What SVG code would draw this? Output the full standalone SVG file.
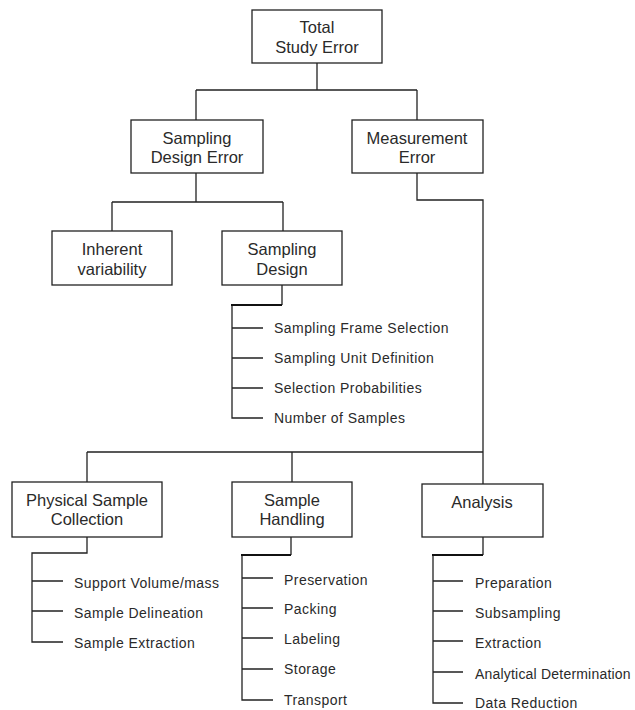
<svg xmlns="http://www.w3.org/2000/svg" width="635" height="710" viewBox="0 0 635 710">
<style>
.box{fill:#fff;stroke:#222;stroke-width:1.3}
.bt{font-family:"Liberation Sans",Arial,sans-serif;font-size:16.5px;fill:#2a2a2a;text-anchor:middle}
.lt{font-family:"Liberation Sans",Arial,sans-serif;font-size:14px;letter-spacing:0.45px;fill:#2a2a2a}
.c{fill:none;stroke:#222;stroke-width:1.3}
.th{fill:none;stroke:#111;stroke-width:2.2}
</style>
<rect width="635" height="710" fill="#fff"/>
<g id="connectors">
<path class="c" d="M317 63V90M196 90H417M196 90V120M417 90V120"/>
<path class="c" d="M196 173V202M112 202H283M112 202V231M283 202V231"/>
<path class="c" d="M417 173V200H483V452M87 452H483M87 452V482M292 452V482M483 452V484"/>
<path class="c" d="M282 285V305M232 305V418H263M232 328H263M232 358H263M232 388H263"/>
<path class="th" d="M282 305H231"/>
<path class="c" d="M87 537V553H32V642H63M32 581H63M32 611H63"/>
<path class="c" d="M291 537V555M242 555V700H273M242 578H273M242 608H273M242 638H273M242 669H273"/>
<path class="th" d="M291 555H241"/>
<path class="c" d="M483 537V555M433 555V703H463M433 581H463M433 611H463M433 641H463M433 672H463"/>
<path class="th" d="M483 555H432"/>
</g>
<g id="total-study-error"><rect class="box" x="252" y="10" width="130" height="53"/><text class="bt" x="317" y="33">Total</text><text class="bt" x="317" y="53">Study Error</text></g>
<g id="sampling-design-error"><rect class="box" x="131" y="120" width="132" height="53"/><text class="bt" x="197" y="144">Sampling</text><text class="bt" x="197" y="163">Design Error</text></g>
<g id="measurement-error"><rect class="box" x="352" y="120" width="131" height="53"/><text class="bt" x="417" y="144">Measurement</text><text class="bt" x="417" y="163">Error</text></g>
<g id="inherent-variability"><rect class="box" x="52" y="231" width="120" height="54"/><text class="bt" x="112" y="255">Inherent</text><text class="bt" x="112" y="275">variability</text></g>
<g id="sampling-design"><rect class="box" x="222" y="231" width="120" height="54"/><text class="bt" x="282" y="255">Sampling</text><text class="bt" x="282" y="275">Design</text></g>
<g id="sampling-design-items">
<text class="lt" x="274" y="333">Sampling Frame Selection</text>
<text class="lt" x="274" y="363">Sampling Unit Definition</text>
<text class="lt" x="274" y="393">Selection Probabilities</text>
<text class="lt" x="274" y="423">Number of Samples</text>
</g>
<g id="physical-sample-collection"><rect class="box" x="12" y="482" width="150" height="55"/><text class="bt" x="87" y="506">Physical Sample</text><text class="bt" x="87" y="525">Collection</text></g>
<g id="sample-handling"><rect class="box" x="232" y="482" width="120" height="55"/><text class="bt" x="292" y="506">Sample</text><text class="bt" x="292" y="525">Handling</text></g>
<g id="analysis"><rect class="box" x="422" y="484" width="121" height="53"/><text class="bt" x="482" y="508">Analysis</text></g>
<g id="physical-sample-collection-items">
<text class="lt" x="74" y="588">Support Volume/mass</text>
<text class="lt" x="74" y="618">Sample Delineation</text>
<text class="lt" x="74" y="648">Sample Extraction</text>
</g>
<g id="sample-handling-items">
<text class="lt" x="284" y="585">Preservation</text>
<text class="lt" x="284" y="614">Packing</text>
<text class="lt" x="284" y="644">Labeling</text>
<text class="lt" x="284" y="674">Storage</text>
<text class="lt" x="284" y="705">Transport</text>
</g>
<g id="analysis-items">
<text class="lt" x="475" y="588">Preparation</text>
<text class="lt" x="475" y="618">Subsampling</text>
<text class="lt" x="475" y="648">Extraction</text>
<text class="lt" x="475" y="679" style="letter-spacing:0.2px">Analytical Determination</text>
<text class="lt" x="475" y="708">Data Reduction</text>
</g>
</svg>
